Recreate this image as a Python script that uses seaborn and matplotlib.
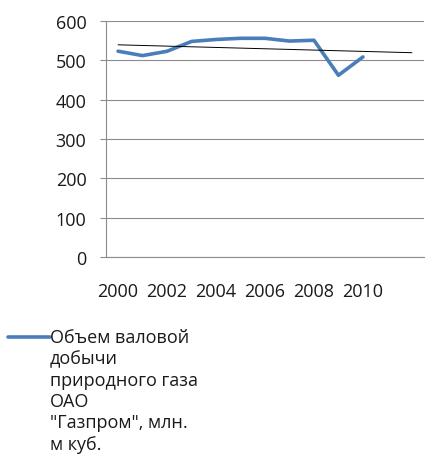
import numpy as np
import pandas as pd
import matplotlib.pyplot as plt
import seaborn as sns
from matplotlib.lines import Line2D
from matplotlib.ticker import MultipleLocator

# годы и объем добычи газа (млн. м куб.)
years = [2000, 2001, 2002, 2003, 2004, 2005, 2006, 2007, 2008, 2009, 2010]
gas = [523.2, 512.0, 523.0, 548.0, 553.0, 556.0, 556.0, 549.0, 551.0, 462.0, 508.6]
forecast_years = [2011, 2012]  # линия тренда продлена на 2 периода
shown_labels = ["2000", "2002", "2004", "2006", "2008", "2010"]
series_name = "Объем валовой\nдобычи\nприродного газа\nОАО\n\"Газпром\", млн.\nм куб."

df = pd.DataFrame({"year": years, "gas": gas})
df["pos"] = range(len(df))

all_years = years + forecast_years
# линейный тренд как в excel
k, b = np.polyfit(df["pos"], df["gas"], 1)
trend = pd.DataFrame({"pos": [0, len(all_years) - 1]})
trend["gas"] = k * trend["pos"] + b

sns.set_style("white")
plt.rcParams["font.family"] = ["Open Sans", "DejaVu Sans"]

fig = plt.figure(figsize=(4.25, 4.64), dpi=100)
ax = fig.add_axes([0.249, 0.444, 0.749, 0.5086])

grid_c = "#8c8c8c"
txt_c = "#1a1a1a"
fs = 13
sns.lineplot(data=df, x="pos", y="gas", color="#4a7ebb", linewidth=2.6, ax=ax)
sns.lineplot(data=trend, x="pos", y="gas", color="black", linewidth=0.7, ax=ax)

ax.set_xlim(-0.5, len(all_years) - 0.5)
ax.set_ylim(0, 600)
ax.yaxis.set_major_locator(MultipleLocator(100))
ax.grid(axis="y", color=grid_c, linewidth=0.8)
ax.set_axisbelow(True)

label_pos = [all_years.index(int(s)) for s in shown_labels]
ax.set_xticks(label_pos)
ax.set_xticklabels(shown_labels)
ax.set_xticks(np.arange(-0.5, len(all_years)), minor=True)
ax.tick_params(axis="x", which="major", length=0, pad=18, labelsize=fs, colors=txt_c)
ax.tick_params(axis="x", which="minor", length=5, width=0.8, color=grid_c, direction="out")
ax.tick_params(axis="y", length=4.5, width=0.8, color=grid_c, pad=9.5, labelsize=fs, labelcolor=txt_c, left=True)

for s in ["top", "right"]:
    ax.spines[s].set_visible(False)
ax.spines["left"].set_color(grid_c)
ax.spines["bottom"].set_color(grid_c)
ax.spines["left"].set_linewidth(0.8)
ax.spines["bottom"].set_linewidth(0.8)
ax.set_xlabel("")
ax.set_ylabel("")

# легенда внизу слева
fig.add_artist(Line2D([8 / 425, 50 / 425], [1 - 338 / 464, 1 - 338 / 464],
                      color="#4a7ebb", linewidth=2.6, transform=fig.transFigure))
fig.text(50 / 425, 1 - 329 / 464, series_name, ha="left", va="top",
         fontsize=fs, color=txt_c, linespacing=1.24)

plt.savefig("out.png", dpi=100)
plt.close()
